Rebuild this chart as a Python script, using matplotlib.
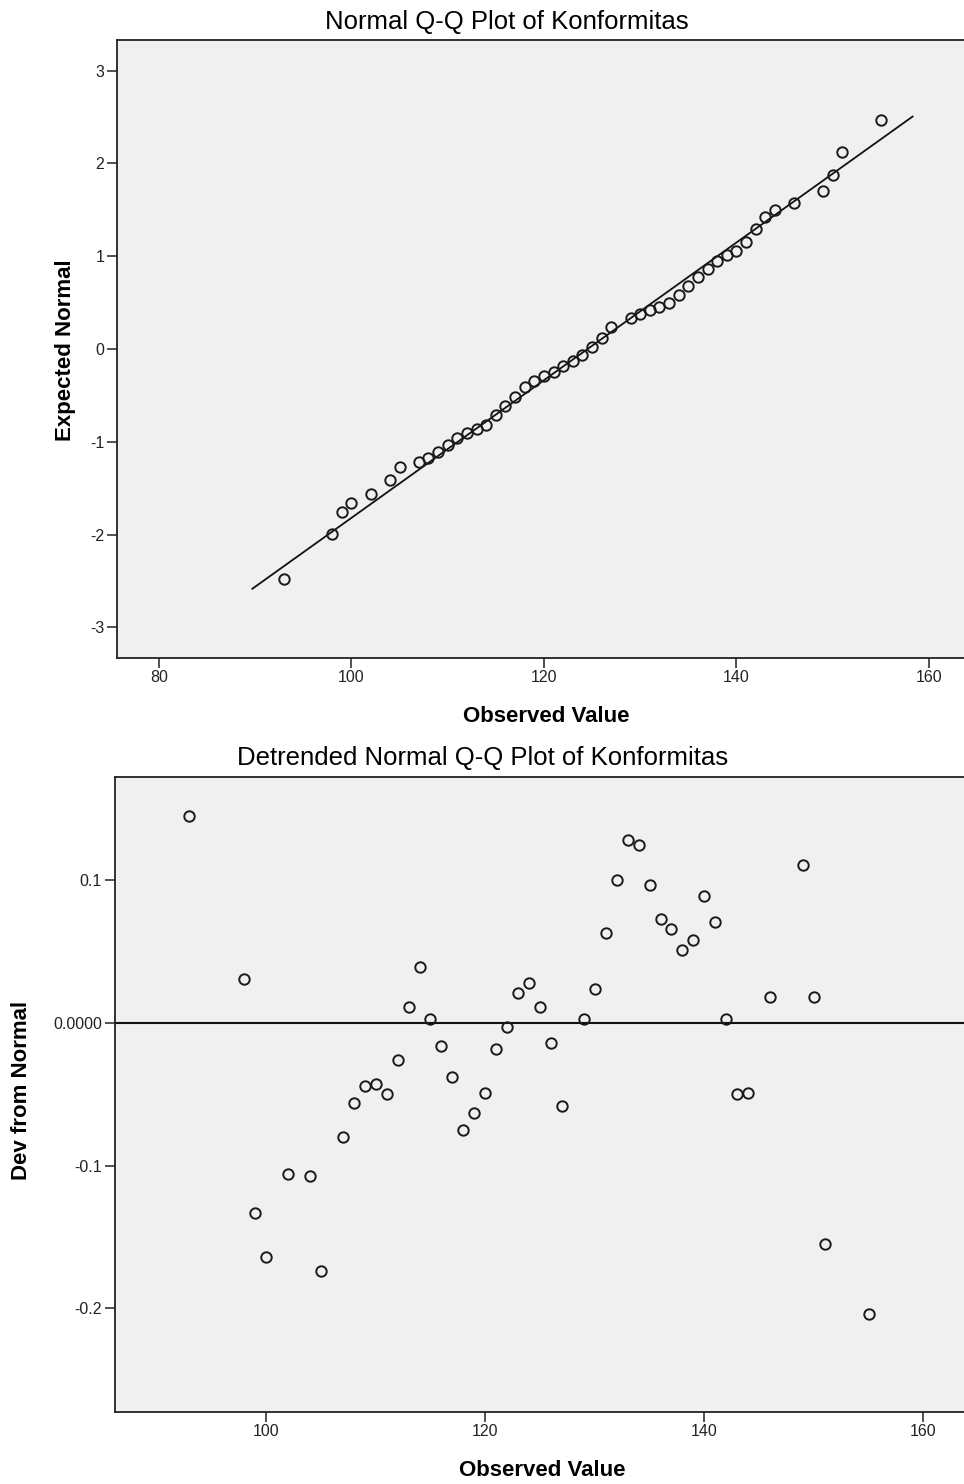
import numpy as np
import matplotlib
matplotlib.use("Agg")
import matplotlib.pyplot as plt

plt.rcParams['font.family'] = ['Liberation Sans', 'DejaVu Sans']
plt.rcParams['axes.unicode_minus'] = False

# Observed values (Konformitas)
observed = [93, 98, 99, 100, 102, 104, 105, 107, 108, 109, 110, 111, 112, 113,
            114, 115, 116, 117, 118, 119, 120, 121, 122, 123, 124, 125, 126,
            127, 129, 130, 131, 132, 133, 134, 135, 136, 137, 138, 139, 140,
            141, 142, 143, 144, 146, 149, 150, 151, 155]

# Expected normal values (top plot)
expected = [-2.484, -1.999, -1.761, -1.656, -1.565, -1.416, -1.275, -1.220,
            -1.170, -1.108, -1.035, -0.954, -0.903, -0.866, -0.820, -0.710,
            -0.617, -0.521, -0.409, -0.347, -0.287, -0.244, -0.185, -0.134,
            -0.067, 0.024, 0.123, 0.241, 0.329, 0.382, 0.417, 0.454, 0.500,
            0.577, 0.680, 0.778, 0.859, 0.948, 1.015, 1.059, 1.151, 1.293,
            1.420, 1.493, 1.575, 1.704, 1.871, 2.119, 2.464]

# Deviation from normal (bottom plot)
deviation = [0.145, 0.031, -0.133, -0.164, -0.106, -0.107, -0.174, -0.080,
             -0.056, -0.044, -0.043, -0.050, -0.026, 0.011, 0.039, 0.003,
             -0.016, -0.038, -0.075, -0.063, -0.049, -0.018, -0.003, 0.021,
             0.028, 0.011, -0.014, -0.058, 0.003, 0.024, 0.063, 0.100, 0.128,
             0.125, 0.097, 0.073, 0.066, 0.051, 0.058, 0.089, 0.071, 0.003,
             -0.050, -0.049, 0.018, 0.111, 0.018, -0.155, -0.204]

# estimated normal fit for the reference line
fit_mean = 124.53
fit_sd = 13.48
line_x = np.array([89.7, 158.3])

W, H = 964, 1484
fig = plt.figure(figsize=(W / 100, H / 100), dpi=100)

def px_axes(left, top, right, bottom):
    return fig.add_axes([left / W, 1 - bottom / H, (right - left) / W, (bottom - top) / H])

def style(ax):
    ax.set_facecolor('#f0f0f0')
    ax.spines['right'].set_visible(False)
    for s in ('left', 'bottom', 'top'):
        ax.spines[s].set_linewidth(1.3)
        ax.spines[s].set_color('#222222')
    ax.tick_params(direction='out', length=7, width=1.1, labelsize=11.5,
                   colors='#222222', pad=2)
    ax.tick_params(top=False, right=False)

marker_kw = dict(marker='o', linestyle='none', markersize=7.5,
                 markerfacecolor='none', markeredgecolor='#1a1a1a',
                 markeredgewidth=1.4)

# ---- top: Normal Q-Q plot
ax1 = px_axes(117, 40, 964, 658)
style(ax1)
ax1.plot(line_x, (line_x - fit_mean) / fit_sd, color='#111111', lw=1.3)
ax1.plot(observed, expected, **marker_kw)
ax1.set_xlim(75.64, 163.64)
ax1.set_ylim(-3.33, 3.33)
ax1.set_xticks([80, 100, 120, 140, 160])
ax1.set_yticks([-3, -2, -1, 0, 1, 2, 3])

fig.text(507 / W, 1 - 22 / H, 'Normal Q-Q Plot of Konformitas',
         ha='center', va='center', fontsize=18.5)
fig.text(546 / W, 1 - 716 / H, 'Observed Value', ha='center', va='center',
         fontsize=16, fontweight='bold')
fig.text(65 / W, 1 - 350 / H, 'Expected Normal', ha='center', va='center',
         fontsize=16, fontweight='bold', rotation=90)

# ---- bottom: Detrended Normal Q-Q plot
ax2 = px_axes(114.5, 777, 964, 1412)
style(ax2)
ax2.axhline(0, color='#111111', lw=1.5)
ax2.plot(observed, deviation, **marker_kw)
ax2.set_xlim(86.16, 163.7)
ax2.set_ylim(-0.2726, 0.1724)
ax2.set_xticks([100, 120, 140, 160])
ax2.set_yticks([0.1, 0.0, -0.1, -0.2])
ax2.set_yticklabels(['0.1', '0.0000', '-0.1', '-0.2'])

fig.text(483 / W, 1 - 758 / H, 'Detrended Normal Q-Q Plot of Konformitas',
         ha='center', va='center', fontsize=18.5)
fig.text(542 / W, 1 - 1470 / H, 'Observed Value', ha='center', va='center',
         fontsize=16, fontweight='bold')
fig.text(22 / W, 1 - 1090 / H, 'Dev from Normal', ha='center', va='center',
         fontsize=16, fontweight='bold', rotation=90)

fig.savefig('out.png', dpi=100, facecolor='white')
